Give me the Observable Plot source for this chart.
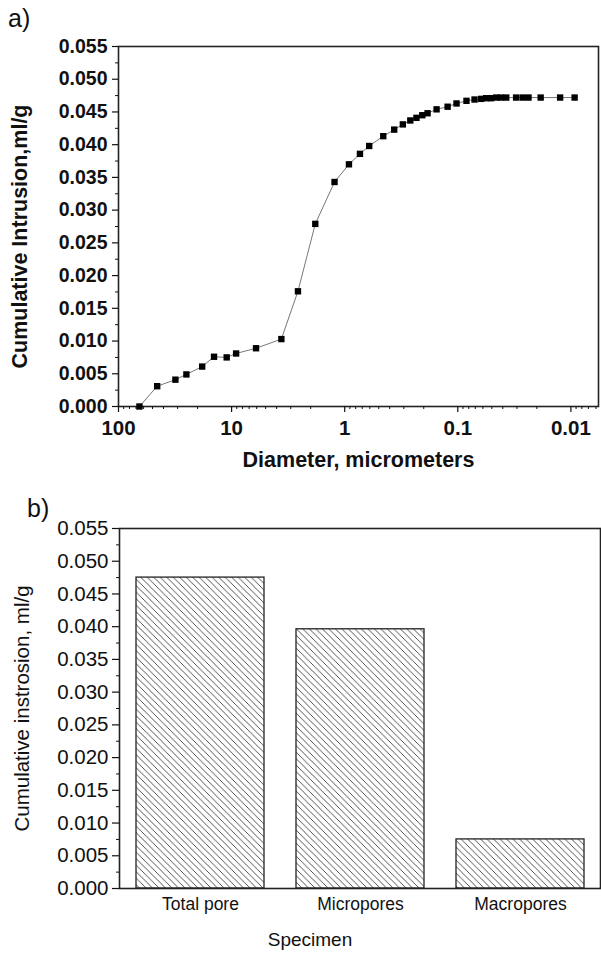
<!DOCTYPE html>
<html>
<head>
<meta charset="utf-8">
<script src="https://cdn.jsdelivr.net/npm/d3@7"></script>
<script src="https://cdn.jsdelivr.net/npm/@observablehq/plot@0.6"></script>
<style>
  html, body { margin: 0; padding: 0; background: #fff; }
  #wrap { position: relative; width: 601px; height: 960px; overflow: hidden; font-family: "Liberation Sans", Arial, sans-serif; color: #111; }
  .tag { position: absolute; font-size: 25px; line-height: 1; }
  #c1 { position: absolute; left: 0; top: 0; }
  #c2 { position: absolute; left: 0; top: 482px; }
</style>
</head>
<body>
<div id="wrap">
  <div id="c1"></div>
  <div id="c2"></div>
  <div class="tag" style="left:8px;top:6px;">a)</div>
  <div class="tag" style="left:27px;top:496px;">b)</div>
</div>
<script>
// ---- Panel a) data: mercury intrusion curve ----
const diameterUm = [65.3, 45.5, 31.4, 25.1, 18.2, 14.3, 11.05, 9.12, 6.08, 3.63,
  2.59, 1.82, 1.23, 0.917, 0.733, 0.607, 0.456, 0.365, 0.306, 0.263,
  0.232, 0.206, 0.185, 0.154, 0.123, 0.1026, 0.0838, 0.0711, 0.0621, 0.0561,
  0.0507, 0.0458, 0.0414, 0.0373, 0.0305, 0.0267, 0.0237, 0.0185, 0.01245, 0.00927];
const intrusion = [0.0000, 0.0031, 0.0041, 0.0049, 0.0061, 0.0076, 0.0075, 0.0081, 0.0089, 0.0103,
  0.0176, 0.0279, 0.0343, 0.0370, 0.0386, 0.0398, 0.0413, 0.0423, 0.0431, 0.0437,
  0.0441, 0.0445, 0.0448, 0.0454, 0.0458, 0.0463, 0.0467, 0.0469, 0.0470, 0.0471,
  0.0471, 0.0472, 0.0472, 0.0472, 0.0472, 0.0472, 0.0472, 0.0472, 0.0472, 0.0472];
const xTicksA = [100, 10, 1, 0.1, 0.01];
const xTickLabelsA = ["100", "10", "1", "0.1", "0.01"];
const yTicks = [0, 0.005, 0.01, 0.015, 0.02, 0.025, 0.03, 0.035, 0.04, 0.045, 0.05, 0.055];

// ---- Panel b) data ----
const specimens = ["Total pore", "Micropores", "Macropores"];
const cumIntrusion = [0.0475, 0.0396, 0.0075];

const FONT = "Liberation Sans, Arial, sans-serif";
const fmt3 = d3.format(".3f");
const yMinor = yTicks.slice(0, -1).map((v, i) => (v + yTicks[i + 1]) / 2);
const xMinorA = [];
for (const e of [-3, -2, -1, 0, 1]) for (let k = 2; k <= 9; k++) {
  const v = k * Math.pow(10, e);
  if (v > 0.0057 && v < 100) xMinorA.push(v);
}

const ptsA = diameterUm.map((d, i) => ({d, v: intrusion[i]}));

const chartA = Plot.plot({
  width: 601, height: 482,
  marginTop: 46, marginBottom: 76, marginLeft: 118, marginRight: 3,
  style: {fontFamily: FONT, background: "white", color: "#111"},
  x: {type: "log", domain: [100, 0.0057]},
  y: {domain: [0, 0.055]},
  marks: [
    Plot.frame({stroke: "#222", strokeWidth: 1.6}),
    Plot.axisY(yTicks, {tickSize: 6, tickPadding: 5, tickFormat: fmt3, fontSize: 19.5, fontWeight: "bold", label: null, strokeWidth: 1.2}),
    Plot.axisY(yMinor, {tickSize: 3, tickFormat: () => "", label: null, strokeWidth: 1}),
    Plot.axisX(xTicksA, {tickSize: 6, tickPadding: 8, tickFormat: (d) => xTickLabelsA[xTicksA.indexOf(d)], fontSize: 20.5, fontWeight: "bold", label: null, strokeWidth: 1.2}),
    Plot.axisX(xMinorA, {tickSize: 3, tickFormat: () => "", label: null, strokeWidth: 1}),
    Plot.line(ptsA, {x: "d", y: "v", stroke: "#777", strokeWidth: 1}),
    Plot.dot(ptsA, {x: "d", y: "v", symbol: "square", r: 3.6, fill: "#000", stroke: "none"}),
    Plot.text(["Cumulative Intrusion,ml/g"], {frameAnchor: "left", textAnchor: "middle", dx: -98, dy: 10, rotate: -90, fontSize: 21.5, fontWeight: "bold", fill: "#111"}),
    Plot.text(["Diameter, micrometers"], {frameAnchor: "bottom", dy: 60, fontSize: 21.5, fontWeight: "bold", fill: "#111"})
  ]
});
document.getElementById("c1").appendChild(chartA);

const barsB = specimens.map((s, i) => ({s, v: cumIntrusion[i]}));
const chartB = Plot.plot({
  width: 601, height: 478,
  marginTop: 46, marginBottom: 72, marginLeft: 119, marginRight: 1,
  style: {fontFamily: FONT, background: "white", color: "#111"},
  x: {domain: specimens, paddingInner: 0.2, paddingOuter: 0.1},
  y: {domain: [0, 0.055]},
  marks: [
    Plot.barY(barsB, {x: "s", y: "v", fill: "url(#hatchB)", stroke: "#222", strokeWidth: 1.3}),
    Plot.frame({stroke: "#222", strokeWidth: 1.6}),
    Plot.axisY(yTicks, {tickSize: 7, tickPadding: 4, tickFormat: fmt3, fontSize: 20.5, label: null, strokeWidth: 1.2}),
    Plot.axisY(yMinor, {tickSize: 3, tickFormat: () => "", label: null, strokeWidth: 1}),
    Plot.axisX({tickSize: 0, tickPadding: 9, fontSize: 17.5, label: null}),
    Plot.text(["Cumulative instrosion, ml/g"], {frameAnchor: "left", textAnchor: "middle", dx: -97, rotate: -90, fontSize: 20.5, fill: "#111"}),
    Plot.text(["Specimen"], {frameAnchor: "bottom", dx: -50, dy: 57, fontSize: 19, fill: "#111"})
  ]
});
const defs = d3.select(chartB).insert("defs", ":first-child");
const w = 6.5;
const pat = defs.append("pattern").attr("id", "hatchB").attr("patternUnits", "userSpaceOnUse")
  .attr("width", w).attr("height", w);
pat.append("rect").attr("width", w).attr("height", w).attr("fill", "#fff");
pat.append("path").attr("d", `M0,0L${w},${w}M${-w/2},${w/2}L${w/2},${w*1.5}M${w/2},${-w/2}L${w*1.5},${w/2}`)
  .attr("stroke", "#333").attr("stroke-width", 0.85);
document.getElementById("c2").appendChild(chartB);
</script>
</body>
</html>
